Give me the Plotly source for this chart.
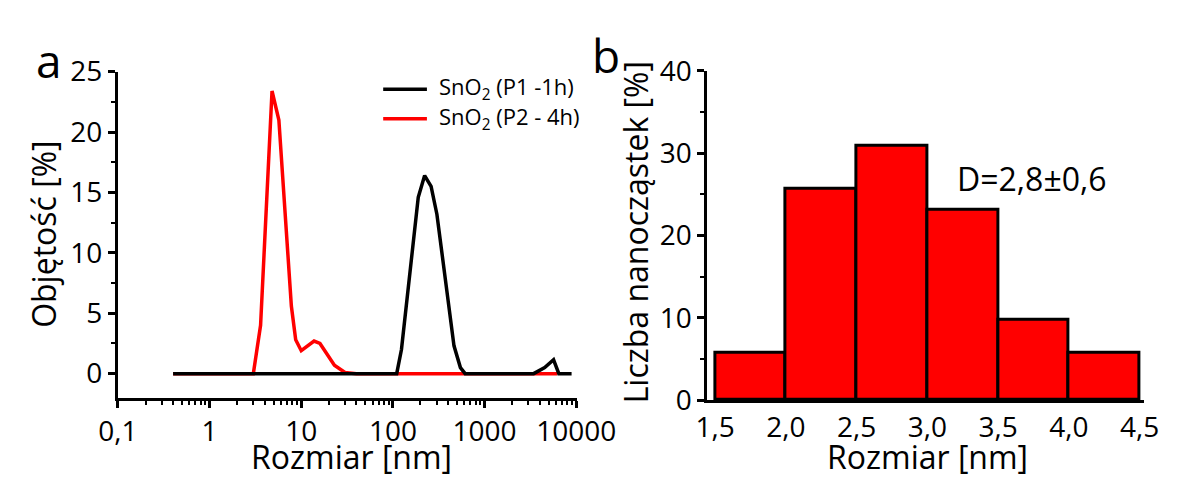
import plotly.graph_objects as go

# Panel a: DLS volume distributions (log size axis)
p1_size = [0.4, 110, 124, 189, 222, 261, 302, 464, 545, 614, 3430, 4530, 5660, 6460, 8900]
p1_volume = [0, 0, 2.0, 14.6, 16.4, 15.5, 13.2, 2.3, 0.5, 0, 0, 0.5, 1.15, 0, 0]

p2_size = [0.4, 3.0, 3.6, 4.8, 5.7, 7.8, 8.7, 10.0, 13.8, 16.0, 23.0, 30.0, 40.0, 6200]
p2_volume = [0, 0, 4.0, 23.4, 21.0, 5.6, 2.8, 1.9, 2.7, 2.5, 0.7, 0.1, 0, 0]

p1_name = "SnO<sub>2</sub> (P1 -1h)"
p2_name = "SnO<sub>2</sub> (P2 - 4h)"

log_tick_vals = [0.1, 1, 10, 100, 1000, 10000]
log_tick_text = ["0,1", "1", "10", "100", "1000", "10000"]
vol_tick_vals = [0, 5, 10, 15, 20, 25]

# Panel b: TEM size histogram
bin_centers = [1.75, 2.25, 2.75, 3.25, 3.75, 4.25]
bin_percent = [5.7, 25.7, 30.9, 23.1, 9.8, 5.7]
bin_width = 0.5

hist_tick_vals = [1.5, 2.0, 2.5, 3.0, 3.5, 4.0, 4.5]
hist_tick_text = ["1,5", "2,0", "2,5", "3,0", "3,5", "4,0", "4,5"]
count_tick_vals = [0, 10, 20, 30, 40]

W, H = 1198, 491
FONT = "Open Sans"
RED = "#ff0000"
LINE_W = 3.5


def px_x(v):
    return v / W


def px_y(v):
    return 1 - v / H


fig = go.Figure()

# red first so the black curve sits on top of the shared baseline
fig.add_trace(go.Scatter(
    x=p2_size, y=p2_volume, mode="lines", name=p2_name,
    line=dict(color=RED, width=LINE_W), showlegend=False,
    xaxis="x", yaxis="y",
))
fig.add_trace(go.Scatter(
    x=p1_size, y=p1_volume, mode="lines", name=p1_name,
    line=dict(color="#000000", width=LINE_W), showlegend=False,
    xaxis="x", yaxis="y",
))
fig.add_trace(go.Bar(
    x=bin_centers, y=bin_percent, width=[bin_width] * len(bin_centers),
    marker=dict(color=RED, line=dict(color="#000000", width=3)),
    showlegend=False, xaxis="x2", yaxis="y2",
))

axis_common = dict(
    showline=True, linecolor="black", linewidth=3, showgrid=False,
    zeroline=False, ticks="outside", tickcolor="black", tickwidth=2.5,
    ticklen=7, tickfont=dict(family=FONT, size=28, color="black"),
)

fig.update_layout(
    width=W, height=H,
    margin=dict(l=0, r=0, t=0, b=0),
    paper_bgcolor="white", plot_bgcolor="white",
    font=dict(family=FONT, color="black"),
    bargap=0,
    showlegend=False,
    xaxis=dict(
        **axis_common, type="log", range=[-1, 4.01],
        domain=[px_x(103), px_x(586)], anchor="y",
        tickvals=log_tick_vals, ticktext=log_tick_text,
        minor=dict(ticks="outside", ticklen=4, tickwidth=2, tickcolor="black", dtick="D1"),
    ),
    yaxis=dict(
        **axis_common, range=[-2, 25],
        domain=[px_y(409.5), px_y(56)], anchor="x",
        tickvals=vol_tick_vals,
        minor=dict(ticks="outside", ticklen=4, tickwidth=2, tickcolor="black", dtick=2.5),
    ),
    xaxis2=dict(
        **{**axis_common, "ticks": ""}, range=[1.446, 4.53],
        domain=[px_x(723), px_x(1182)], anchor="y2",
        tickvals=hist_tick_vals, ticktext=hist_tick_text,
    ),
    yaxis2=dict(
        **axis_common, range=[0, 40],
        domain=[px_y(412), px_y(55)], anchor="x2",
        tickvals=count_tick_vals,
        minor=dict(ticks="outside", ticklen=4, tickwidth=2, tickcolor="black", dtick=5),
    ),
)

# legend for panel a: line swatches with labels
legend_rows = [(p1_name, "#000000", 75), (p2_name, RED, 107)]
shapes = []
annotations = []
for label, color, yrow in legend_rows:
    shapes.append(dict(
        type="line", xref="paper", yref="paper",
        x0=px_x(382), x1=px_x(428), y0=px_y(yrow), y1=px_y(yrow),
        line=dict(color=color, width=LINE_W),
    ))
    annotations.append(dict(
        text=label, x=px_x(439), y=px_y(yrow - 1), xanchor="left",
        font=dict(size=22),
    ))

annotations += [
    dict(text="a", x=px_x(30), y=px_y(43), font=dict(size=46)),
    dict(text="b", x=px_x(616), y=px_y(38), font=dict(size=46)),
    dict(text="Objętość [%]", x=px_x(24), y=px_y(232), textangle=-90, font=dict(size=32)),
    dict(text="Liczba nanocząstek [%]", x=px_x(647), y=px_y(230), textangle=-90, font=dict(size=32)),
    dict(text="Rozmiar [nm]", x=px_x(349), y=px_y(473), font=dict(size=32)),
    dict(text="Rozmiar [nm]", x=px_x(955), y=px_y(473), font=dict(size=32)),
    dict(text="D=2,8±0,6", x=px_x(1064), y=px_y(172), font=dict(size=32)),
]
for a in annotations:
    a.setdefault("xanchor", "center")
    a.update(xref="paper", yref="paper", showarrow=False, yanchor="middle")
    a["font"].update(family=FONT, color="black")

fig.update_layout(shapes=shapes, annotations=annotations)

fig.write_html("out.html")
